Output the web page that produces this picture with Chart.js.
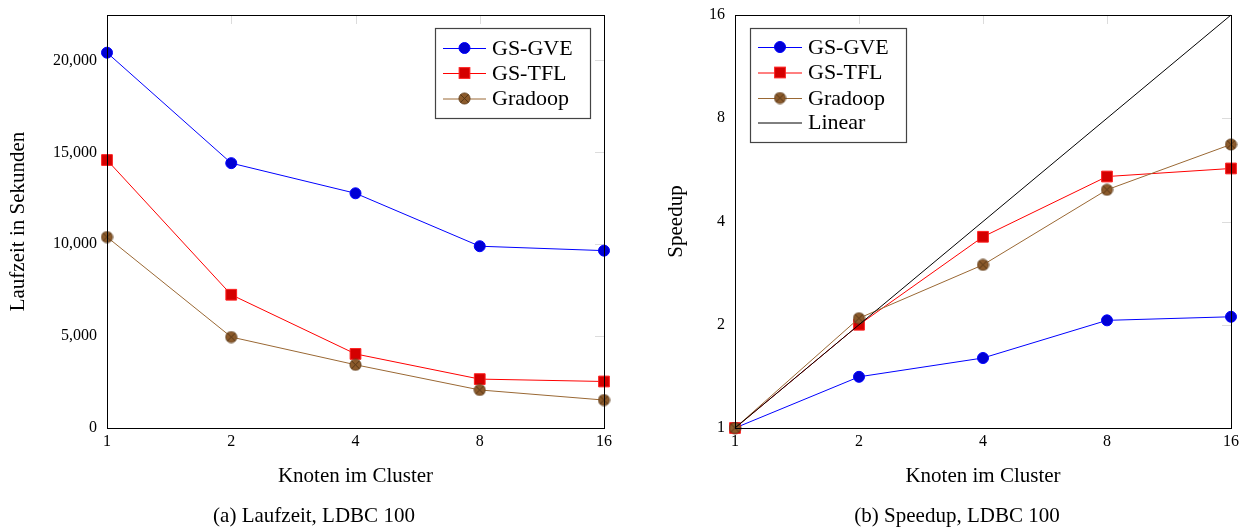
<!DOCTYPE html>
<html>
<head>
<meta charset="utf-8">
<script src="https://cdn.jsdelivr.net/npm/chart.js@4/dist/chart.umd.min.js"></script>
<style>
  html, body { margin:0; padding:0; background:#fff; }
  body { width:1245px; height:527px; position:relative; overflow:hidden; font-family:'Liberation Serif', serif; }
  canvas { position:absolute; top:0; }
  .cap { position:absolute; width:400px; text-align:center; font-size:21px; line-height:24px; top:503px; color:#000; }
</style>
</head>
<body>
<canvas id="c1" width="625" height="527" style="left:0;width:625px;height:527px"></canvas>
<canvas id="c2" width="620" height="527" style="left:625px;width:620px;height:527px"></canvas>
<div class="cap" style="left:114px">(a) Laufzeit, LDBC 100</div>
<div class="cap" style="left:757px">(b) Speedup, LDBC 100</div>
<script>
// ---------- data ----------
const nodes = [1, 2, 4, 8, 16];
const xTickValues = [1, 2, 4, 8, 16];
const runtimeTicks = [0, 5000, 10000, 15000, 20000];
const speedupTicks = [1, 2, 4, 8, 16];
const seriesNames = ['GS-GVE', 'GS-TFL', 'Gradoop', 'Linear'];

const runtimeGVE = [20420, 14410, 12770, 9890, 9650];
const runtimeTFL = [14580, 7250, 4030, 2660, 2530];
const runtimeGradoop = [10390, 4950, 3440, 2070, 1520];

const speedupGVE = [1, 1.41, 1.60, 2.06, 2.11];
const speedupTFL = [1, 2.00, 3.61, 5.41, 5.71];
const speedupGradoop = [1, 2.09, 2.99, 4.95, 6.71];
const speedupLinear = [1, 2, 4, 8, 16];

// ---------- styles ----------
const FONT = "'Liberation Serif', serif";
Chart.defaults.font.family = FONT;
Chart.defaults.color = '#000';

function makeOtimes() {
  const c = document.createElement('canvas');
  c.width = 13; c.height = 13;
  const g = c.getContext('2d');
  const cx = 6.5, cy = 6.5, r = 5.6;
  g.beginPath(); g.arc(cx, cy, r, 0, Math.PI * 2);
  g.fillStyle = '#8b5a2b'; g.fill();
  g.lineWidth = 0.8; g.strokeStyle = '#5a3816'; g.stroke();
  const d = r * 0.7071;
  g.beginPath();
  g.moveTo(cx - d, cy - d); g.lineTo(cx + d, cy + d);
  g.moveTo(cx + d, cy - d); g.lineTo(cx - d, cy + d);
  g.lineWidth = 0.8; g.strokeStyle = '#4a2e12'; g.stroke();
  return c;
}
const otimes = makeOtimes();

const styles = {
  'GS-GVE': { borderColor:'#0000ff', pointBackgroundColor:'#0000d4', pointBorderColor:'#0000ff', pointStyle:'circle', pointRadius:5.5, order:3 },
  'GS-TFL': { borderColor:'#ff0000', pointBackgroundColor:'#d40000', pointBorderColor:'#ff2020', pointStyle:'rect', pointRadius:7.6, order:2 },
  'Gradoop': { borderColor:'#9a6834', pointBackgroundColor:'#8b5a2b', pointBorderColor:'#5a3816', pointStyle:otimes, pointRadius:6, order:1 },
  'Linear': { borderColor:'#000000', pointRadius:0, order:0 }
};

function ds(name, values) {
  return Object.assign({
    label: name,
    data: nodes.map((n, i) => ({ x: n, y: values[i] })),
    borderWidth: 1,
    pointBorderWidth: 1,
    tension: 0,
    clip: false
  }, styles[name]);
}

// ---------- plugin: inner ticks, frame, legend ----------
const framePlugin = {
  id: 'frameLegend',
  beforeDatasetsDraw(chart) {
    const { ctx, chartArea: a } = chart;
    const xs = chart.scales.x, ys = chart.scales.y;
    ctx.save();
    ctx.strokeStyle = '#dcdcdc'; ctx.lineWidth = 1;
    xs.ticks.forEach(t => {
      const px = Math.round(xs.getPixelForValue(t.value)) + 0.5;
      ctx.beginPath(); ctx.moveTo(px, a.top); ctx.lineTo(px, a.top + 9); ctx.stroke();
    });
    ys.ticks.forEach(t => {
      const py = Math.round(ys.getPixelForValue(t.value)) + 0.5;
      ctx.beginPath(); ctx.moveTo(a.right, py); ctx.lineTo(a.right - 9, py); ctx.stroke();
    });
    ctx.restore();
  },
  afterDraw(chart, args, opts) {
    const { ctx, chartArea: a } = chart;
    ctx.save();
    ctx.strokeStyle = '#000'; ctx.lineWidth = 1;
    ctx.strokeRect(Math.round(a.left) + 0.5, Math.round(a.top) + 0.5, Math.round(a.right - a.left), Math.round(a.bottom - a.top));
    // legend
    const L = opts.box;
    ctx.fillStyle = '#fff';
    ctx.fillRect(L.x1, L.y1, L.x2 - L.x1, L.y2 - L.y1);
    ctx.strokeStyle = '#444'; ctx.lineWidth = 1.2;
    ctx.strokeRect(L.x1 + 0.5, L.y1 + 0.5, L.x2 - L.x1, L.y2 - L.y1);
    ctx.font = "22px " + FONT;
    ctx.textBaseline = 'middle';
    ctx.textAlign = 'left';
    chart.data.datasets.forEach((d, i) => {
      const y = L.rowY[i];
      ctx.strokeStyle = d.borderColor; ctx.lineWidth = 1;
      ctx.beginPath(); ctx.moveTo(L.lx1, y + 0.5); ctx.lineTo(L.lx2, y + 0.5); ctx.stroke();
      const mx = (L.lx1 + L.lx2) / 2;
      if (d.pointStyle === 'circle') {
        ctx.beginPath(); ctx.arc(mx, y, d.pointRadius, 0, Math.PI * 2);
        ctx.fillStyle = d.pointBackgroundColor; ctx.fill();
        ctx.strokeStyle = d.pointBorderColor; ctx.stroke();
      } else if (d.pointStyle === 'rect') {
        const s = d.pointRadius * Math.SQRT1_2;
        ctx.fillStyle = d.pointBackgroundColor; ctx.fillRect(mx - s, y - s, 2 * s, 2 * s);
        ctx.strokeStyle = d.pointBorderColor; ctx.strokeRect(mx - s, y - s, 2 * s, 2 * s);
      } else if (d.pointStyle instanceof HTMLCanvasElement) {
        ctx.drawImage(d.pointStyle, mx - d.pointStyle.width / 2, y - d.pointStyle.height / 2);
      }
      ctx.fillStyle = '#000';
      ctx.fillText(d.label, L.tx, y + 1);
    });
    ctx.restore();
  }
};

function setTicks(values) {
  return scale => { scale.ticks = values.map(v => ({ value: v })); };
}

function makeOptions(cfg) {
  return {
    responsive: false,
    animation: false,
    events: [],
    layout: { padding: { top: 15, right: cfg.rightPad, left: 0, bottom: 0 } },
    plugins: {
      legend: { display: false },
      tooltip: { enabled: false },
      frameLegend: { box: cfg.legend }
    },
    scales: {
      x: {
        type: 'logarithmic', min: 1, max: 16,
        afterBuildTicks: setTicks(xTickValues),
        afterFit: s => { s.height = 99; s.paddingLeft = 0; s.paddingRight = 0; },
        grid: { display: false, drawTicks: false },
        border: { display: false },
        ticks: { callback: v => String(v), font: { size: 16 }, color: '#000', padding: 4, maxRotation: 0, autoSkip: false },
        title: { display: true, text: 'Knoten im Cluster', font: { size: 21 }, color: '#000', padding: { top: 0, bottom: 38 } }
      },
      y: cfg.y
    }
  };
}

// ---------- chart (a) ----------
new Chart(document.getElementById('c1'), {
  type: 'line',
  data: { datasets: [ds('GS-GVE', runtimeGVE), ds('GS-TFL', runtimeTFL), ds('Gradoop', runtimeGradoop)] },
  options: makeOptions({
    rightPad: 21,
    legend: { x1: 435, y1: 28, x2: 590, y2: 118, rowY: [48, 73, 98.5], lx1: 443, lx2: 486, tx: 492 },
    y: {
      type: 'linear', min: 0, max: 22470,
      afterBuildTicks: setTicks(runtimeTicks),
      afterFit: s => { s.width = 107; s.paddingTop = 0; s.paddingBottom = 0; },
      grid: { display: false, drawTicks: false },
      border: { display: false },
      ticks: { callback: v => v.toLocaleString('en-US'), font: { size: 16 }, color: '#000', padding: 10, autoSkip: false },
      title: { display: true, text: 'Laufzeit in Sekunden', font: { size: 21 }, color: '#000', padding: { top: 6, bottom: 0 } }
    }
  }),
  plugins: [framePlugin]
});

// ---------- chart (b) ----------
new Chart(document.getElementById('c2'), {
  type: 'line',
  data: { datasets: [ds('GS-GVE', speedupGVE), ds('GS-TFL', speedupTFL), ds('Gradoop', speedupGradoop), ds('Linear', speedupLinear)] },
  options: makeOptions({
    rightPad: 14,
    legend: { x1: 125, y1: 28, x2: 281, y2: 142, rowY: [47, 72.5, 98, 122.5], lx1: 133, lx2: 177, tx: 183 },
    y: {
      type: 'logarithmic', min: 1, max: 16,
      afterBuildTicks: setTicks(speedupTicks),
      afterFit: s => { s.width = 110; s.paddingTop = 0; s.paddingBottom = 0; },
      grid: { display: false, drawTicks: false },
      border: { display: false },
      ticks: { callback: v => String(v), font: { size: 16 }, color: '#000', padding: 10, autoSkip: false },
      title: { display: true, text: 'Speedup', font: { size: 21 }, color: '#000', padding: { top: 39, bottom: 0 } }
    }
  }),
  plugins: [framePlugin]
});
</script>
</body>
</html>
